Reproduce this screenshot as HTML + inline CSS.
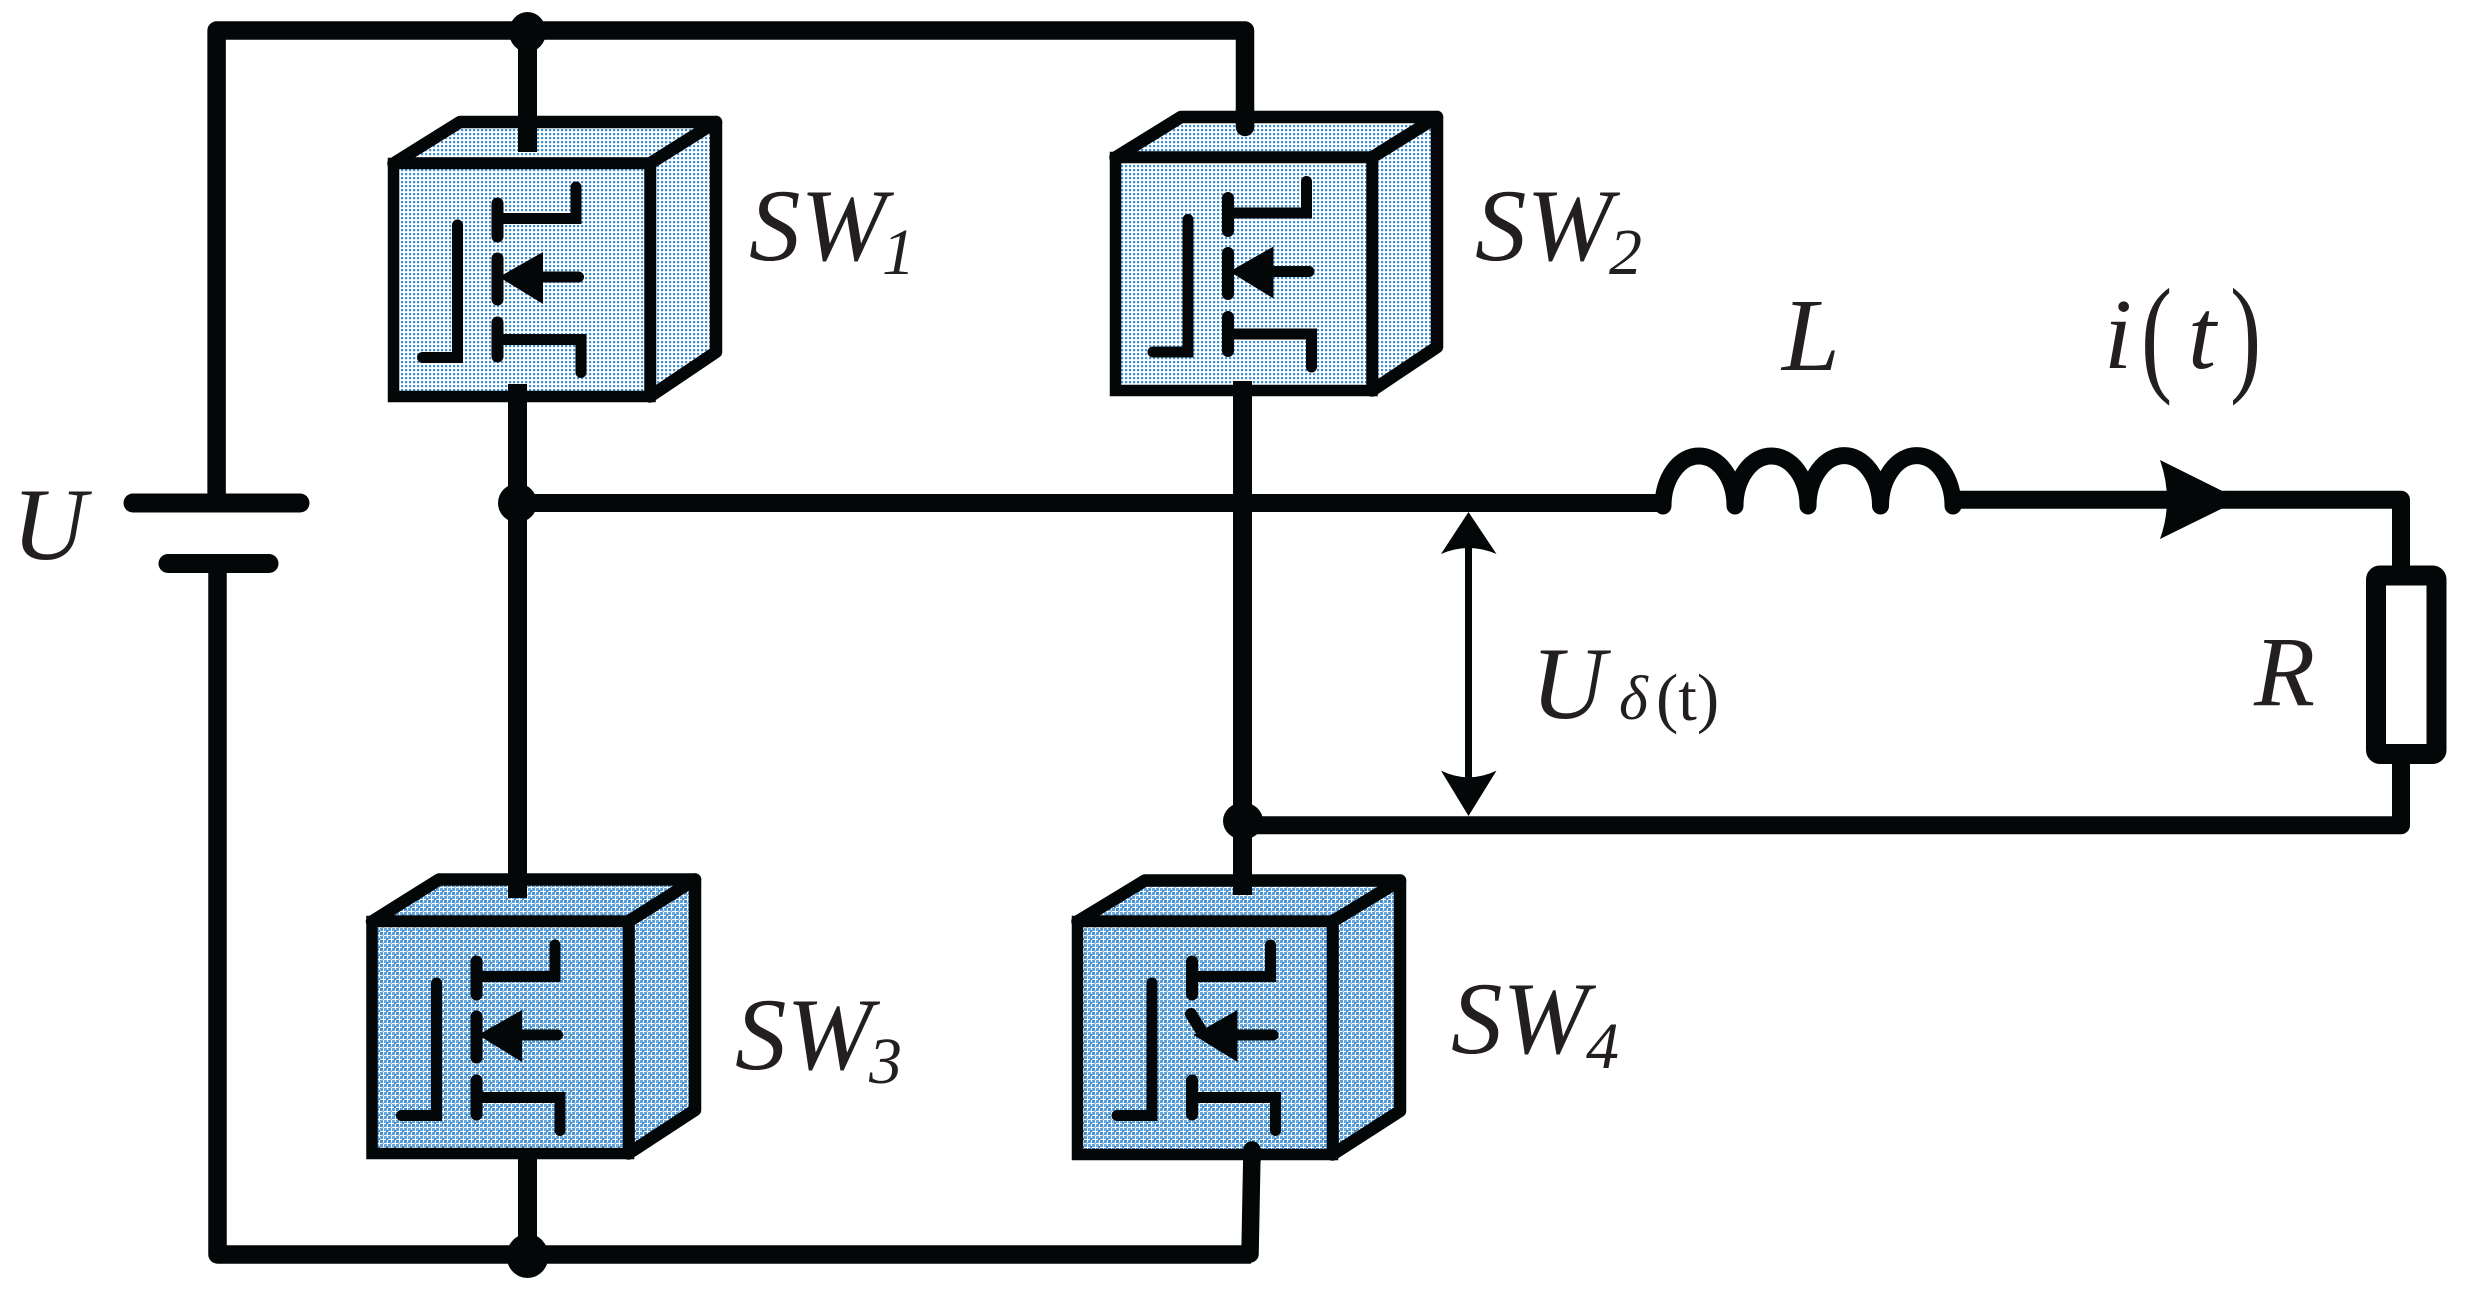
<!DOCTYPE html>
<html>
<head>
<meta charset="utf-8">
<style>
html,body{margin:0;padding:0;background:#fff;width:2473px;height:1316px;overflow:hidden}
svg{display:block}
text{font-family:"Liberation Serif","Times New Roman",serif;fill:#231f20}
.i{font-style:italic}
</style>
</head>
<body>
<svg width="2473" height="1316" viewBox="0 0 2473 1316" xmlns="http://www.w3.org/2000/svg">
<defs>
<pattern id="light" width="4" height="4" patternUnits="userSpaceOnUse">
<rect width="4" height="4" fill="#fff"/>
<rect x="1" y="1" width="2.2" height="2.2" fill="#3f90d0"/>
</pattern>
<pattern id="dark" width="8" height="8" patternUnits="userSpaceOnUse">
<rect width="8" height="8" fill="#fff"/>
<rect x="0" y="0" width="3" height="3" fill="#6aaae0"/>
<rect x="4" y="0" width="3" height="3" fill="#5aa0da"/>
<rect x="0" y="4" width="3" height="3" fill="#5aa0da"/>
<rect x="4" y="4" width="3" height="3" fill="#3f8bcc"/>
<rect x="2" y="2" width="2" height="2" fill="#3f8bcc"/>
<rect x="6" y="6" width="2" height="2" fill="#9cc6ea"/>
</pattern>
<g id="fet" fill="none" stroke="#030708" stroke-width="11" stroke-linecap="round" stroke-linejoin="miter">
<path d="M-35 0H0V-132.5"/>
<path d="M40 -139H118.5V-170.5"/>
<path d="M40 -18H123.5V15"/>
<path d="M40 -154V-121M40 -35V-1" stroke-width="12"/>
<path d="M85 -80.5H121"/>
<path d="M41.5 -80.5L85.5 -105.5V-53.5Z" fill="#030708" stroke="none"/>
</g>
<path id="midch" d="M40 -99V-58" fill="none" stroke="#030708" stroke-width="12" stroke-linecap="round"/>
</defs>

<rect width="2473" height="1316" fill="#fff"/>

<!-- main wires -->
<g fill="none" stroke="#030708" stroke-linejoin="round">
<path d="M216.6 503V30.5H1245V136" stroke-width="18.5"/>
<path d="M217.5 563V1254.5H1251" stroke-width="18.5"/>
<path d="M527.5 30V152" stroke-width="19"/>
<path d="M527.5 1150V1254" stroke-width="19"/>
<path d="M517.5 384V898" stroke-width="19"/>
<path d="M1242.5 381V895" stroke-width="19"/>
<path d="M517.5 503H1667" stroke-width="18"/>
<path d="M1243 825.3H2401V499.7H1953" stroke-width="18"/>
<path d="M1252 1150L1250 1254" stroke-width="17.5" stroke-linecap="round"/>
<path d="M133 503H300" stroke-width="19" stroke-linecap="round"/>
<path d="M168 563.5H269" stroke-width="19" stroke-linecap="round"/>
<path d="M1663 506A36 50 0 0 1 1735 506A36.500 50 0 0 1 1808 506A36 50 0 0 1 1880.500 506A36 50 0 0 1 1953 506" stroke-width="17" stroke-linecap="round"/>
</g>

<!-- junctions -->
<g fill="#030708">
<ellipse cx="527.500" cy="32" rx="18.500" ry="20"/>
<ellipse cx="527.500" cy="1256" rx="21" ry="22"/>
<circle cx="517.500" cy="503" r="19.500"/>
<ellipse cx="1243" cy="821" rx="20" ry="18.500"/>
</g>

<!-- resistor -->
<rect x="2376" y="575.500" width="60.500" height="178.500" rx="4" fill="#fff" stroke="#030708" stroke-width="20"/>

<!-- arrowheads -->
<g fill="#030708">
<path d="M2160 460L2240 499.700L2160 539Q2174 500 2160 460Z"/>
<path d="M1468.500 512L1496.500 554Q1468.500 542 1441 554Z"/>
<path d="M1468.500 816L1496.500 770.600Q1468.500 784 1441 770.600Z"/>
</g>
<path d="M1468.500 540V790" stroke="#030708" stroke-width="7" fill="none"/>

<!-- SW1 -->
<g stroke="#030708" stroke-width="12.500" stroke-linejoin="round">
<path d="M393.500 163.500L460 122H716L650 163.500Z" fill="url(#light)"/>
<path d="M650 163.500L716 122V352L650 396.500Z" fill="url(#light)"/>
<rect x="393.500" y="163.500" width="256.500" height="233" fill="url(#light)" stroke-width="11.500" stroke-linejoin="miter"/>
</g>
<path d="M527.500 116V152M517.500 384V400" stroke="#030708" stroke-width="19" fill="none"/>
<use href="#fet" transform="translate(457.500 357.500)"/>
<use href="#midch" transform="translate(457.500 357.500)"/>

<!-- SW2 -->
<g stroke="#030708" stroke-width="12.500" stroke-linejoin="round">
<path d="M1115.500 157.500L1181 117H1437L1372 157.500Z" fill="url(#light)"/>
<path d="M1372 157.500L1437 117V347L1372 390.500Z" fill="url(#light)"/>
<rect x="1115.500" y="157.500" width="256.500" height="233" fill="url(#light)" stroke-width="11.500" stroke-linejoin="miter"/>
</g>
<path d="M1245 111V127" stroke="#030708" stroke-width="18.500" stroke-linecap="round" fill="none"/>
<path d="M1242.500 381V400" stroke="#030708" stroke-width="19" fill="none"/>
<use href="#fet" transform="translate(1188 352)"/>
<use href="#midch" transform="translate(1188 352)"/>

<!-- SW3 -->
<g stroke="#030708" stroke-width="12.500" stroke-linejoin="round">
<path d="M372 921.500L439 879.500H695L628.500 921.500Z" fill="url(#dark)"/>
<path d="M628.500 921.500L695 879.500V1110L628.500 1153.500Z" fill="url(#dark)"/>
<rect x="372" y="921.500" width="256.500" height="232" fill="url(#dark)" stroke-width="11.500" stroke-linejoin="miter"/>
</g>
<path d="M517.500 870V898M527.500 1150V1240" stroke="#030708" stroke-width="19" fill="none"/>
<use href="#fet" transform="translate(436.500 1115.500)"/>
<use href="#midch" transform="translate(436.500 1115.500)"/>

<!-- SW4 -->
<g stroke="#030708" stroke-width="12.500" stroke-linejoin="round">
<path d="M1077.500 921.500L1145 880.500H1400L1332.500 921.500Z" fill="url(#dark)"/>
<path d="M1332.500 921.500L1400 880.500V1111L1332.500 1154.500Z" fill="url(#dark)"/>
<rect x="1077.500" y="921.500" width="255" height="233" fill="url(#dark)" stroke-width="11.500" stroke-linejoin="miter"/>
</g>
<path d="M1242.500 870V895" stroke="#030708" stroke-width="19" fill="none"/>
<path d="M1252 1150V1160" stroke="#030708" stroke-width="17.500" stroke-linecap="round" fill="none"/>
<use href="#fet" transform="translate(1152 1115.500)"/>
<path d="M1191 1014L1202 1032" stroke="#030708" stroke-width="12" stroke-linecap="round" fill="none"/>

<!-- labels -->
<text class="i" x="749" y="260" font-size="103">SW</text>
<text class="i" x="882" y="274" font-size="66">1</text>
<text class="i" x="1475" y="260" font-size="103">SW</text>
<text class="i" x="1609" y="274" font-size="66">2</text>
<text class="i" x="735" y="1069" font-size="103">SW</text>
<text class="i" x="869" y="1083" font-size="66">3</text>
<text class="i" x="1451" y="1053" font-size="103">SW</text>
<text class="i" x="1586" y="1068" font-size="66">4</text>
<text class="i" x="12" y="559" font-size="103">U</text>
<text class="i" x="1782" y="370" font-size="104">L</text>
<text class="i" x="2104" y="368" font-size="101">i</text>
<text class="i" x="2188" y="368" font-size="101">t</text>
<text transform="translate(2141 378) scale(0.72 1)" font-size="130">(</text>
<text transform="translate(2230 378) scale(0.72 1)" font-size="130">)</text>
<text class="i" x="2254" y="705" font-size="100">R</text>
<text class="i" x="1531" y="718" font-size="103">U</text>
<text class="i" x="1619" y="719" font-size="62">δ</text>
<text x="1656" y="720" font-size="67">(t)</text>
</svg>
</body>
</html>
